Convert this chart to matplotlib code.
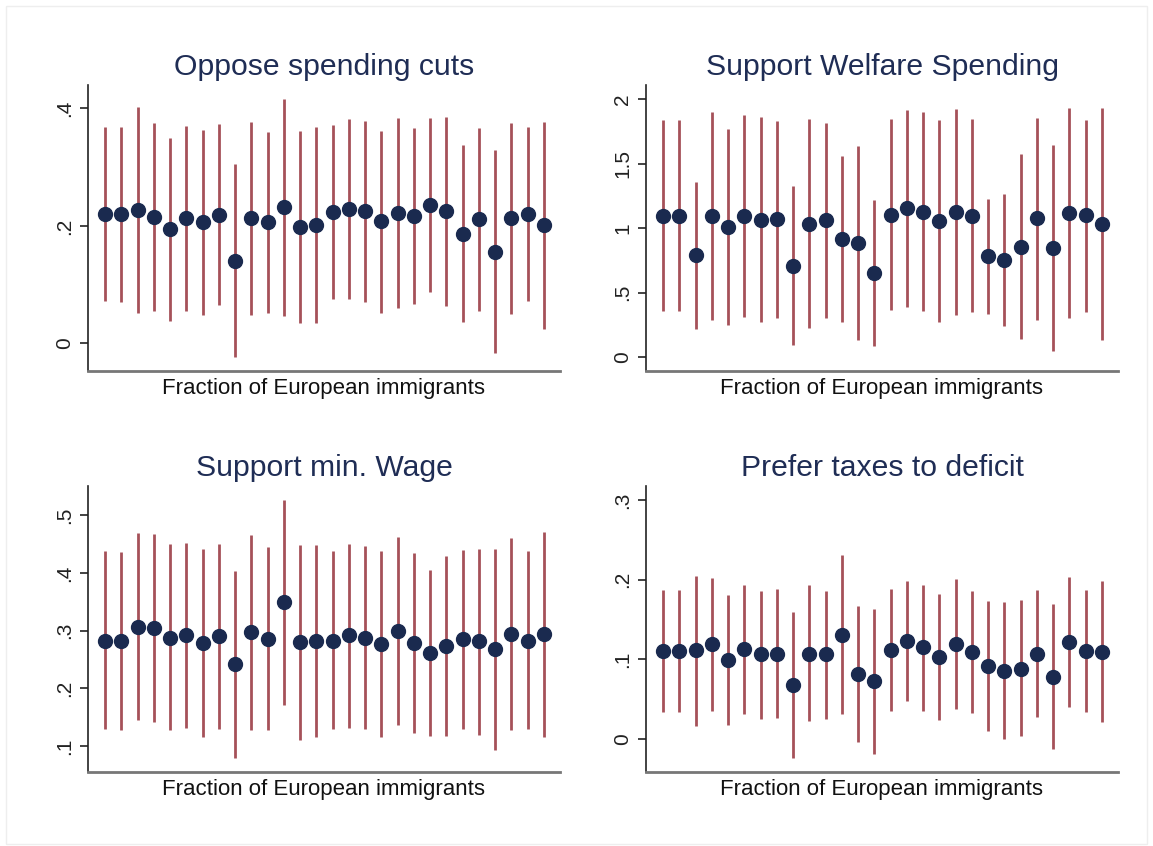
import matplotlib
matplotlib.use("Agg")
import matplotlib.pyplot as plt
from matplotlib.patches import Rectangle

plt.rcParams['font.family'] = ['Liberation Sans', 'DejaVu Sans']

titles = ["Oppose spending cuts", "Support Welfare Spending",
          "Support min. Wage", "Prefer taxes to deficit"]
xlabel = "Fraction of European immigrants"

# point estimates and confidence bounds
cuts_est = [0.221, 0.221, 0.227, 0.215, 0.194, 0.213, 0.206, 0.219, 0.141, 0.213,
            0.206, 0.232, 0.199, 0.202, 0.223, 0.229, 0.225, 0.208, 0.222, 0.217,
            0.235, 0.225, 0.187, 0.211, 0.156, 0.214, 0.221, 0.201]
cuts_hi = [0.369, 0.369, 0.402, 0.376, 0.349, 0.370, 0.364, 0.374, 0.306, 0.377,
           0.360, 0.417, 0.362, 0.369, 0.372, 0.382, 0.379, 0.362, 0.383, 0.367,
           0.383, 0.385, 0.338, 0.366, 0.329, 0.376, 0.369, 0.377]
cuts_lo = [0.073, 0.071, 0.052, 0.055, 0.038, 0.055, 0.048, 0.065, -0.023, 0.048,
           0.052, 0.046, 0.034, 0.034, 0.075, 0.075, 0.071, 0.052, 0.061, 0.067,
           0.088, 0.064, 0.036, 0.055, -0.017, 0.050, 0.072, 0.025]

welf_est = [1.097, 1.097, 0.789, 1.094, 1.006, 1.094, 1.061, 1.071, 0.709, 1.032,
            1.061, 0.918, 0.882, 0.652, 1.102, 1.154, 1.123, 1.056, 1.125, 1.097,
            0.781, 0.753, 0.854, 1.076, 0.843, 1.118, 1.100, 1.030]
welf_hi = [1.842, 1.842, 1.358, 1.899, 1.767, 1.881, 1.860, 1.834, 1.330, 1.847,
           1.816, 1.563, 1.635, 1.216, 1.845, 1.917, 1.897, 1.842, 1.925, 1.847,
           1.229, 1.265, 1.573, 1.855, 1.646, 1.933, 1.842, 1.928]
welf_lo = [0.354, 0.354, 0.220, 0.290, 0.246, 0.308, 0.269, 0.305, 0.091, 0.223,
           0.303, 0.274, 0.129, 0.088, 0.362, 0.388, 0.360, 0.269, 0.326, 0.352,
           0.331, 0.243, 0.140, 0.290, 0.047, 0.303, 0.352, 0.129]

wage_est = [0.283, 0.282, 0.306, 0.305, 0.288, 0.292, 0.279, 0.290, 0.242, 0.297,
            0.285, 0.349, 0.280, 0.282, 0.283, 0.292, 0.288, 0.277, 0.299, 0.279,
            0.261, 0.274, 0.286, 0.282, 0.268, 0.294, 0.283, 0.294]
wage_hi = [0.438, 0.437, 0.469, 0.468, 0.450, 0.453, 0.441, 0.451, 0.403, 0.466,
           0.445, 0.527, 0.448, 0.448, 0.438, 0.451, 0.447, 0.438, 0.462, 0.435,
           0.405, 0.430, 0.440, 0.442, 0.442, 0.461, 0.438, 0.472]
wage_lo = [0.129, 0.127, 0.145, 0.142, 0.128, 0.131, 0.116, 0.130, 0.080, 0.128,
           0.127, 0.172, 0.110, 0.116, 0.129, 0.132, 0.129, 0.115, 0.136, 0.123,
           0.117, 0.117, 0.130, 0.120, 0.094, 0.127, 0.129, 0.115]

tax_est = [0.110, 0.110, 0.111, 0.119, 0.099, 0.113, 0.106, 0.107, 0.067, 0.107,
           0.106, 0.131, 0.081, 0.072, 0.111, 0.123, 0.115, 0.103, 0.119, 0.109,
           0.091, 0.085, 0.088, 0.107, 0.078, 0.122, 0.110, 0.109]
tax_hi = [0.187, 0.187, 0.205, 0.202, 0.181, 0.194, 0.186, 0.188, 0.159, 0.194,
          0.186, 0.231, 0.167, 0.163, 0.188, 0.199, 0.194, 0.182, 0.201, 0.186,
          0.173, 0.172, 0.175, 0.187, 0.170, 0.204, 0.187, 0.199]
tax_lo = [0.034, 0.034, 0.016, 0.035, 0.017, 0.031, 0.025, 0.026, -0.025, 0.022,
          0.025, 0.031, -0.004, -0.019, 0.035, 0.048, 0.035, 0.024, 0.037, 0.032,
          0.009, -0.001, 0.003, 0.027, -0.013, 0.040, 0.034, 0.021]

yticks = [[0, 0.2, 0.4], [0, 0.5, 1, 1.5, 2], [0.1, 0.2, 0.3, 0.4, 0.5], [0, 0.1, 0.2, 0.3]]
yticklabels = [["0", ".2", ".4"], ["0", ".5", "1", "1.5", "2"],
               [".1", ".2", ".3", ".4", ".5"], ["0", ".1", ".2", ".3"]]
ylims = [(-0.047, 0.44), (-0.109, 2.11), (0.055, 0.551), (-0.042, 0.318)]

panels = [(cuts_est, cuts_lo, cuts_hi), (welf_est, welf_lo, welf_hi),
          (wage_est, wage_lo, wage_hi), (tax_est, tax_lo, tax_hi)]

W, H = 1153, 846
fig = plt.figure(figsize=(W / 100, H / 100), dpi=100)
fig.patches.append(Rectangle((6 / W, 2 / H), 1 - 12 / W, 1 - 8 / H, transform=fig.transFigure,
                             fill=False, edgecolor='#eeeeee', linewidth=1))

# axes boxes in pixels: left, top, right, bottom
boxes = [(88, 85, 560, 371), (646, 85, 1118, 371), (88, 486, 560, 772), (646, 486, 1118, 772)]

navy = '#1a2a4f'
red = '#8f2630'

for i, (est, lo, hi) in enumerate(panels):
    l, t, r, b = boxes[i]
    ax = fig.add_axes([l / W, 1 - b / H, (r - l) / W, (b - t) / H])
    x = list(range(1, len(est) + 1))
    ax.vlines(x, lo, hi, color=red, linewidth=2, alpha=0.8)
    ax.plot(x, est, 'o', color=navy, markersize=10, zorder=3)
    ax.set_xlim(-0.05, 29)
    ax.set_ylim(*ylims[i])
    ax.set_yticks(yticks[i])
    ax.set_yticklabels(yticklabels[i], rotation=90, va='center', fontsize=15, color='#222222')
    ax.set_xticks([])
    ax.spines['top'].set_visible(False)
    ax.spines['right'].set_visible(False)
    ax.spines['left'].set_color('#222222')
    ax.spines['left'].set_linewidth(1.2)
    ax.spines['bottom'].set_color('#777777')
    ax.spines['bottom'].set_linewidth(2)
    ax.tick_params(axis='y', length=6, width=1.2, color='#222222', pad=4)
    ax.set_title(titles[i], fontsize=21.7, color='#1f2d55', pad=7)
    ax.set_xlabel(xlabel, fontsize=16, color='#111111', labelpad=5)

fig.savefig('out.png', dpi=100, facecolor='white')
